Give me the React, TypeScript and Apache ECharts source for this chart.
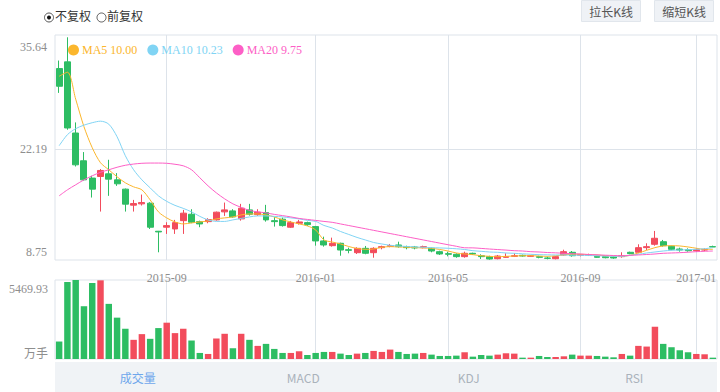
import React, { useEffect, useRef } from "react";
import * as echarts from "echarts";

const categories = [
  "2015-06-05", "2015-06-12", "2015-06-19", "2015-06-26", "2015-07-03", "2015-07-10", "2015-07-17", "2015-07-24",
  "2015-07-31", "2015-08-07", "2015-08-14", "2015-08-21", "2015-08-28", "2015-09-02", "2015-09-09", "2015-09-16",
  "2015-09-23", "2015-09-30", "2015-10-09", "2015-10-16", "2015-10-23", "2015-10-30", "2015-11-06", "2015-11-13",
  "2015-11-20", "2015-11-27", "2015-12-04", "2015-12-11", "2015-12-18", "2015-12-25", "2015-12-31", "2016-01-08",
  "2016-01-15", "2016-01-22", "2016-01-29", "2016-02-05", "2016-02-19", "2016-02-26", "2016-03-04", "2016-03-11",
  "2016-03-18", "2016-03-25", "2016-04-01", "2016-04-08", "2016-04-15", "2016-04-22", "2016-04-29", "2016-05-06",
  "2016-05-13", "2016-05-20", "2016-05-27", "2016-06-03", "2016-06-17", "2016-06-24", "2016-07-01", "2016-07-08",
  "2016-07-15", "2016-07-22", "2016-07-29", "2016-08-05", "2016-08-12", "2016-08-19", "2016-08-26", "2016-09-02",
  "2016-09-09", "2016-09-23", "2016-09-30", "2016-10-14", "2016-10-21", "2016-10-28", "2016-11-04", "2016-11-11",
  "2016-11-18", "2016-11-25", "2016-12-02", "2016-12-16", "2016-12-23", "2017-01-06", "2017-01-13", "2017-01-20",
];

const xTickDates = ["2015-09-02", "2016-01-08", "2016-05-06", "2016-09-02", "2017-01-06"];

const opens = [
  32.80, 33.68, 24.35, 20.71, 18.44, 18.65, 19.00, 18.21, 16.99, 14.89,
  15.06, 15.15, 11.47, 12.00, 11.77, 12.86, 13.70, 12.73, 12.73, 12.96,
  14.01, 14.14, 13.09, 14.27, 13.65, 13.92, 12.86, 13.05, 12.00, 12.52,
  12.60, 12.08, 10.20, 9.58, 9.89, 9.05, 8.66, 9.23, 8.66, 9.32,
  9.50, 9.67, 9.45, 9.41, 9.32, 9.23, 8.79, 8.53, 8.45, 8.14,
  8.58, 8.26, 8.14, 7.87, 8.05, 8.18, 8.31, 8.18, 8.14, 7.96,
  7.87, 8.36, 8.71, 8.31, 8.31, 8.18, 8.14, 8.09, 8.14, 8.71,
  8.71, 9.32, 9.76, 10.10, 9.50, 9.14, 9.05, 8.92, 9.01, 9.45,
];
const closes = [
  30.48, 25.01, 20.18, 18.21, 16.99, 19.44, 18.30, 17.69, 15.02, 15.10,
  15.23, 12.00, 11.38, 12.21, 12.60, 13.84, 12.65, 12.43, 12.99, 13.97,
  14.27, 13.35, 14.49, 13.70, 13.97, 12.96, 12.73, 12.21, 12.60, 12.69,
  12.34, 10.20, 9.67, 9.89, 9.01, 8.97, 9.23, 8.58, 9.23, 9.45,
  9.58, 9.45, 9.32, 9.28, 9.45, 8.88, 8.49, 8.45, 8.14, 8.58,
  8.49, 8.14, 7.83, 8.22, 8.14, 8.26, 8.22, 8.26, 8.05, 7.92,
  8.14, 8.79, 8.26, 8.40, 8.40, 8.05, 8.00, 7.96, 8.26, 8.53,
  9.32, 9.45, 10.55, 9.58, 9.10, 9.01, 8.92, 9.05, 9.05, 9.41,
];
const lows = [
  29.61, 24.78, 19.96, 18.12, 15.89, 14.05, 16.11, 17.42, 14.05, 14.05,
  14.84, 11.77, 8.71, 11.12, 11.12, 11.12, 12.52, 12.00, 12.52, 12.86,
  13.48, 13.26, 12.86, 13.52, 13.48, 12.73, 12.08, 12.08, 11.90, 12.34,
  12.17, 9.58, 9.45, 9.45, 8.26, 8.58, 8.49, 8.45, 8.00, 9.10,
  9.37, 9.32, 9.10, 9.10, 9.23, 8.71, 8.36, 8.18, 8.00, 8.00,
  8.36, 7.83, 7.74, 7.79, 8.00, 8.09, 8.14, 8.14, 7.92, 7.79,
  7.79, 8.26, 8.14, 8.18, 8.22, 8.00, 7.92, 7.87, 8.00, 8.45,
  8.58, 9.01, 9.58, 9.45, 8.97, 8.79, 8.79, 8.79, 8.84, 9.37,
];
const highs = [
  33.85, 36.90, 25.74, 21.85, 18.74, 19.62, 20.84, 19.09, 17.07, 15.58,
  16.28, 15.28, 11.51, 12.65, 12.96, 14.27, 14.36, 12.86, 13.18, 14.05,
  15.23, 14.36, 15.06, 15.06, 14.36, 14.93, 13.31, 13.26, 12.82, 12.96,
  12.73, 12.17, 10.76, 10.63, 9.97, 9.32, 9.37, 9.54, 9.37, 9.58,
  9.80, 10.10, 9.58, 9.54, 9.58, 9.32, 8.92, 8.79, 8.58, 8.79,
  8.66, 8.45, 8.26, 8.36, 8.58, 8.58, 8.40, 8.36, 8.26, 8.14,
  8.22, 9.05, 8.88, 8.49, 8.53, 8.26, 8.22, 8.18, 8.71, 8.79,
  9.76, 9.89, 11.51, 10.33, 9.58, 9.32, 9.23, 9.23, 9.23, 9.58,
];
const volumes = [
  1210, 5330, 5469.93, 3654, 5261, 5447, 3817, 2863, 2095, 1327,
  1722, 1397, 2141, 2514, 1792, 2095, 1280, 419, 349, 1420,
  1746, 745, 1746, 1327, 908, 1047, 698, 419, 419, 535,
  279, 419, 489, 489, 372, 279, 372, 419, 559, 489,
  652, 489, 349, 372, 419, 303, 210, 210, 233, 466,
  163, 279, 233, 303, 396, 372, 93, 93, 210, 140,
  140, 186, 303, 233, 233, 210, 163, 116, 349, 233,
  908, 861, 2234, 1047, 815, 605, 466, 349, 326, 93,
];
const ma5 = [
  31.79, 32.32, 28.79, 25.18, 22.42, 20.45, 19.53, 18.61, 17.82, 17.29,
  16.90, 15.58, 14.01, 13.22, 12.69, 12.43, 12.56, 12.69, 12.82, 13.09,
  13.22, 13.35, 13.61, 13.74, 13.74, 13.61, 13.35, 12.96, 12.69, 12.43,
  12.17, 11.64, 10.33, 10.06, 9.80, 9.47, 9.21, 9.10, 9.14, 9.37,
  9.45, 9.41, 9.37, 9.32, 9.28, 9.23, 9.08, 8.88, 8.62, 8.49,
  8.40, 8.26, 8.18, 8.13, 8.18, 8.22, 8.26, 8.26, 8.22, 8.18,
  8.26, 8.36, 8.45, 8.45, 8.40, 8.36, 8.26, 8.22, 8.18, 8.31,
  8.62, 8.97, 9.32, 9.54, 9.58, 9.54, 9.41, 9.24, 9.10, 9.10,
];
const ma10 = [
  22.68, 24.13, 24.92, 25.38, 25.70, 25.90, 25.51, 23.86, 21.37, 19.53,
  18.21, 17.16, 16.11, 15.39, 14.86, 14.47, 14.01, 13.42, 12.96, 12.76,
  12.76, 12.96, 13.15, 13.35, 13.48, 13.48, 13.42, 13.35, 13.22, 13.09,
  12.89, 12.76, 12.23, 11.90, 11.44, 11.05, 10.66, 10.33, 10.00, 9.80,
  9.63, 9.54, 9.47, 9.41, 9.37, 9.32, 9.28, 9.24, 9.17, 9.08,
  8.92, 8.84, 8.75, 8.71, 8.62, 8.58, 8.51, 8.45, 8.40, 8.38,
  8.36, 8.36, 8.33, 8.31, 8.29, 8.26, 8.22, 8.18, 8.18, 8.31,
  8.45, 8.62, 8.75, 8.88, 8.97, 9.01, 9.05, 9.10, 9.18, 9.32,
];
const ma20 = [
  16.11, 16.90, 17.56, 18.21, 18.74, 19.20, 19.53, 19.86, 20.12, 20.28,
  20.38, 20.41, 20.41, 20.38, 20.25, 20.05, 19.53, 18.48, 17.42, 16.50,
  15.72, 15.06, 14.60, 14.20, 14.01, 13.88, 13.68, 13.52, 13.35, 13.15,
  13.02, 12.89, 12.76, 12.64, 12.43, 12.22, 12.01, 11.80, 11.59, 11.38,
  11.17, 10.96, 10.75, 10.54, 10.33, 10.12, 9.91, 9.70, 9.50, 9.30,
  9.29, 9.22, 9.14, 9.07, 9.00, 8.92, 8.88, 8.79, 8.75, 8.68,
  8.64, 8.58, 8.53, 8.49, 8.42, 8.38, 8.33, 8.29, 8.26, 8.31,
  8.36, 8.42, 8.49, 8.58, 8.62, 8.66, 8.72, 8.79, 8.84, 8.88,
];

const priceLabels = [8.75, 22.19, 35.64];
const volumeMax = 5469.93;
const volumeUnit = "万手";
const legendValues: Record<string, string> = { MA5: "10.00", MA10: "10.23", MA20: "9.75" };
const tabs = ["成交量", "MACD", "KDJ", "RSI"];

const RED = "#f24c5c";
const GREEN = "#2dbd63";
const C_MA5 = "#fbb62d";
const C_MA10 = "#80d4f4";
const C_MA20 = "#fd5fc6";
const GRID_LINE = "#dde3ea";
const LABEL = "#8e8e8e";
const SERIF = '"Liberation Serif", "DejaVu Serif", serif';
const SANS = '"Noto Sans CJK SC", "Noto Sans", sans-serif';

const G_LEFT = 55;
const G_WIDTH = 662;

export default function App() {
  const ref = useRef<HTMLDivElement>(null);
  useEffect(() => {
    if (!ref.current) return;
    const chart = echarts.init(ref.current, undefined, { renderer: "svg" });
    const tickFn = (_i: number, v: string) => xTickDates.includes(v);
    const candleData = categories.map((_, i) => [opens[i], closes[i], lows[i], highs[i]]);
    const volData = volumes.map((v, i) => ({
      value: v,
      itemStyle: { color: closes[i] >= opens[i] ? RED : GREEN },
    }));
    const tabW = G_WIDTH / tabs.length;
    const option: any = {
      animation: false,
      backgroundColor: "#fff",
      legend: {
        left: 63,
        top: 39,
        icon: "circle",
        itemWidth: 11,
        itemHeight: 11,
        itemGap: 10,
        selectedMode: false,
        formatter: (name: string) => `${name} ${legendValues[name]}`,
        textStyle: { fontFamily: SERIF, fontSize: 12, padding: [0, 0, 0, -2] },
        data: [
          { name: "MA5", textStyle: { color: C_MA5 } },
          { name: "MA10", textStyle: { color: C_MA10 } },
          { name: "MA20", textStyle: { color: C_MA20 } },
        ],
      },
      grid: [
        { left: G_LEFT, top: 35, width: G_WIDTH, height: 225, show: true, borderColor: GRID_LINE, borderWidth: 1 },
        { left: G_LEFT, top: 280, width: G_WIDTH, height: 79, show: true, borderColor: GRID_LINE, borderWidth: 1 },
      ],
      xAxis: [
        {
          type: "category",
          gridIndex: 0,
          data: categories,
          boundaryGap: true,
          axisLine: { show: false },
          axisTick: { show: false },
          axisLabel: {
            interval: tickFn,
            formatter: (v: string) => v.slice(0, 7),
            color: LABEL,
            fontFamily: SERIF,
            fontSize: 12,
            margin: 12,
          },
          splitLine: { show: true, interval: tickFn, alignWithLabel: true, lineStyle: { color: GRID_LINE, width: 1 } },
        },
        {
          type: "category",
          gridIndex: 1,
          data: categories,
          boundaryGap: true,
          axisLine: { show: false },
          axisTick: { show: false },
          axisLabel: { show: false },
          splitLine: { show: true, interval: tickFn, alignWithLabel: true, lineStyle: { color: GRID_LINE, width: 1 } },
        },
      ],
      yAxis: [
        {
          type: "value",
          gridIndex: 0,
          min: 7.7,
          max: 37.2,
          axisLine: { show: false },
          axisTick: { show: false },
          splitLine: { show: false },
          axisLabel: {
            customValues: priceLabels,
            formatter: (v: number) => v.toFixed(2),
            color: LABEL,
            fontFamily: SERIF,
            fontSize: 12,
            margin: 8,
          },
        },
        {
          type: "value",
          gridIndex: 1,
          min: 0,
          max: volumeMax,
          axisLine: { show: false },
          axisTick: { show: false },
          splitLine: { show: false },
          axisLabel: {
            customValues: [0, volumeMax],
            formatter: (v: number) => (v === 0 ? `{b|${volumeUnit}}` : `{t|${v.toFixed(2)}}`),
            margin: 7,
            rich: {
              t: { color: LABEL, fontFamily: SERIF, fontSize: 12, padding: [18, 0, 0, 0] },
              b: { color: LABEL, fontFamily: SANS, fontSize: 12, padding: [0, 0, 14, 0] },
            },
          },
        },
      ],
      series: [
        {
          type: "candlestick",
          name: "K",
          xAxisIndex: 0,
          yAxisIndex: 0,
          data: candleData,
          barWidth: "78%",
          itemStyle: { color: RED, color0: GREEN, borderColor: RED, borderColor0: GREEN, borderWidth: 1 },
          markLine: {
            silent: true,
            symbol: "none",
            label: { show: false },
            lineStyle: { color: GRID_LINE, type: "solid", width: 1 },
            data: [{ yAxis: priceLabels[1] }],
            z: 0,
          },
        },
        {
          type: "line",
          name: "MA5",
          data: ma5,
          xAxisIndex: 0,
          yAxisIndex: 0,
          smooth: 0.3,
          showSymbol: false,
          symbol: "none",
          lineStyle: { color: C_MA5, width: 1 },
          itemStyle: { color: C_MA5 },
          z: 5,
        },
        {
          type: "line",
          name: "MA10",
          data: ma10,
          xAxisIndex: 0,
          yAxisIndex: 0,
          smooth: 0.3,
          showSymbol: false,
          symbol: "none",
          lineStyle: { color: C_MA10, width: 1 },
          itemStyle: { color: C_MA10 },
          z: 5,
        },
        {
          type: "line",
          name: "MA20",
          data: ma20,
          xAxisIndex: 0,
          yAxisIndex: 0,
          smooth: 0.3,
          showSymbol: false,
          symbol: "none",
          lineStyle: { color: C_MA20, width: 1 },
          itemStyle: { color: C_MA20 },
          z: 5,
        },
        {
          type: "bar",
          name: "VOL",
          xAxisIndex: 1,
          yAxisIndex: 1,
          data: volData,
          barWidth: "78%",
        },
      ],
      graphic: [
        { type: "circle", shape: { cx: 49, cy: 17.5, r: 4.5 }, style: { fill: "#fff", stroke: "#555", lineWidth: 1 } },
        { type: "circle", shape: { cx: 49, cy: 17.5, r: 2 }, style: { fill: "#111" } },
        { type: "text", x: 55, y: 15, style: { text: "不复权", font: `12px ${SANS}`, fill: "#333", verticalAlign: "middle" } },
        { type: "circle", shape: { cx: 101.5, cy: 17.5, r: 4.5 }, style: { fill: "#fff", stroke: "#555", lineWidth: 1 } },
        { type: "text", x: 107, y: 15, style: { text: "前复权", font: `12px ${SANS}`, fill: "#333", verticalAlign: "middle" } },
        { type: "rect", shape: { x: 581.5, y: 0.5, width: 59, height: 21 }, style: { fill: "#eff2f6", stroke: "#e1e6ec", lineWidth: 1 } },
        { type: "text", x: 611, y: 11, style: { text: "拉长K线", font: `12px ${SANS}`, fill: "#555", align: "center", verticalAlign: "middle" } },
        { type: "rect", shape: { x: 654.5, y: 0.5, width: 59, height: 21 }, style: { fill: "#eff2f6", stroke: "#e1e6ec", lineWidth: 1 } },
        { type: "text", x: 684, y: 11, style: { text: "缩短K线", font: `12px ${SANS}`, fill: "#555", align: "center", verticalAlign: "middle" } },
        { type: "rect", shape: { x: G_LEFT, y: 362, width: G_WIDTH, height: 30 }, style: { fill: "#f0f3f6" } },
        ...tabs.map((t, i) => ({
          type: "text",
          x: G_LEFT + tabW * (i + 0.5),
          y: 377,
          style: {
            text: t,
            font: `12px ${SANS}`,
            fill: i === 0 ? "#6ea7ec" : "#aab2bb",
            align: "center",
            verticalAlign: "middle",
          },
        })),
      ],
    };
    chart.setOption(option);
    return () => chart.dispose();
  }, []);
  return <div ref={ref} style={{ position: "absolute", left: 0, top: 0, width: 720, height: 392 }} />;
}
